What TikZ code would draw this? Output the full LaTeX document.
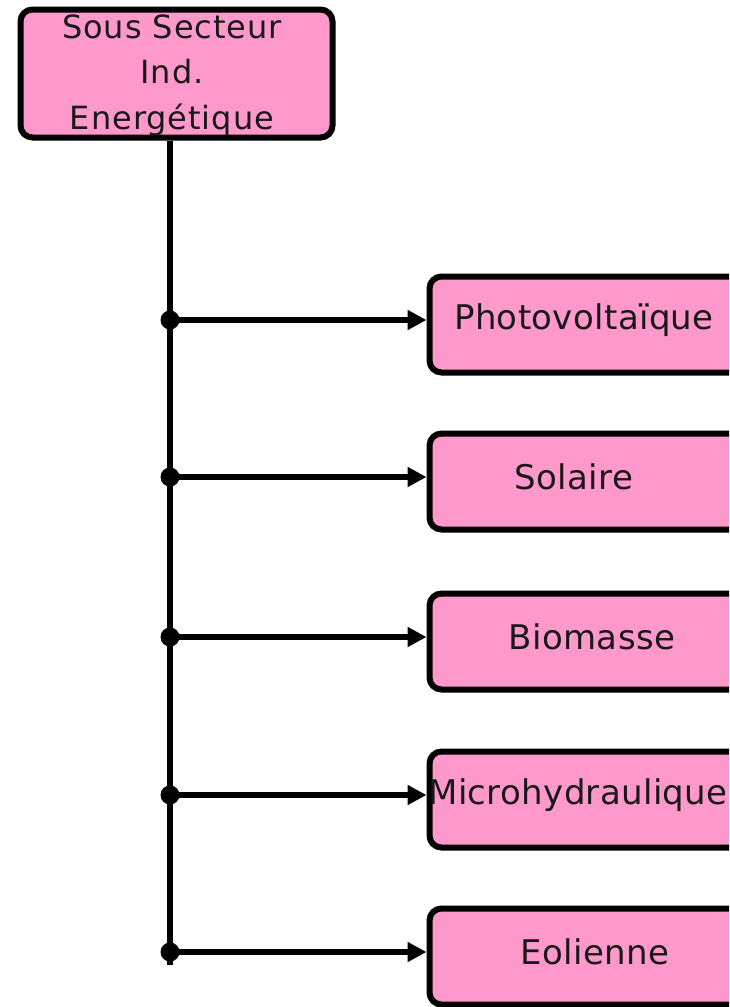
\documentclass[tikz,border=0pt]{standalone}
\usepackage{fontspec}
\setmainfont{DejaVu Sans}
\newfontfamily\boxfont[LetterSpace=1]{DejaVu Sans}
\newfontfamily\headfont[LetterSpace=3]{DejaVu Sans}
\usetikzlibrary{arrows.meta}
\definecolor{boxpink}{HTML}{FF99CC}
\tikzset{
  x=1pt, y=-1pt,
  stepbox/.style={draw=black, fill=boxpink, line width=6pt, rounded corners=12pt,
    minimum width=340pt, minimum height=96pt, anchor=west, inner sep=0pt},
  headbox/.style={draw=black, fill=boxpink, line width=6pt, rounded corners=12pt,
    minimum width=312pt, minimum height=128pt, inner sep=0pt},
  lbl/.style={inner sep=0pt, font=\boxfont\fontsize{34}{38}\selectfont, text=black!90},
  headlbl/.style={inner sep=0pt, align=center, font=\headfont\fontsize{32}{45.5}\selectfont, text=black!90},
  trunk/.style={line width=5.5pt},
  branch/.style={line width=5.5pt, -{Triangle[length=19pt,width=19pt]}},
  joint/.style={circle, fill=black, inner sep=0pt, minimum size=19pt},
}
\begin{document}
\begin{tikzpicture}
\useasboundingbox (0,0) rectangle (729,1007);
\clip (0,0) rectangle (729,1007);

% head of the tree
\node[headbox] (head) at (176.5,73.5) {};
\node[headlbl] (headtxt) at (172,75) {Sous Secteur\\Ind.\\Energétique};

% branch boxes
\node[stepbox] (pv)  at (426.5,324.5) {};
\node[stepbox] (sol) at (426.5,481.5) {};
\node[stepbox] (bio) at (426.5,641.5) {};
\node[stepbox] (mic) at (426.5,799.5) {};
\node[stepbox] (eol) at (426.5,956.5) {};

\node[lbl] (pvtxt)  at (584,320) {Photovoltaïque};
\node[lbl] (soltxt) at (574,477) {Solaire};
\node[lbl] (biotxt) at (592,637) {Biomasse};
\node[lbl] (mictxt) at (578,795) {Microhydraulique};
\node[lbl] (eoltxt) at (595,952) {Eolienne};

% junction points on the trunk
\coordinate (j1) at (170,320);
\coordinate (j2) at (170,477);
\coordinate (j3) at (170,637);
\coordinate (j4) at (170,795);
\coordinate (j5) at (170,952);
\coordinate (tail) at (170,965);

% trunk
\draw[trunk] (head.south -| j1) -- (tail);

% branches
\foreach \j/\b in {j1/pv, j2/sol, j3/bio, j4/mic, j5/eol}{
  \draw[branch] (\j) -- (\j -| \b.west);
  \node[joint] at (\j) {};
}
\end{tikzpicture}
\end{document}
